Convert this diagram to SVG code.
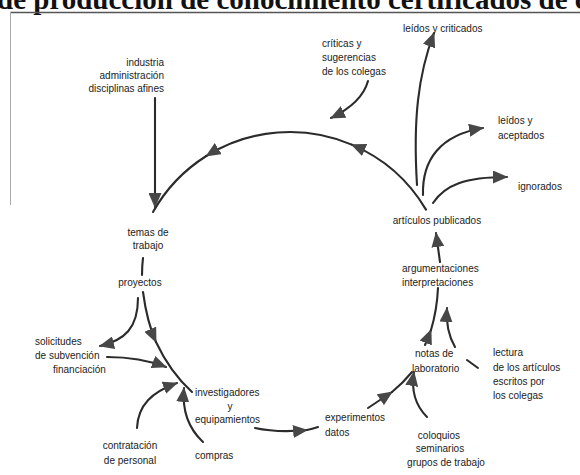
<svg xmlns="http://www.w3.org/2000/svg" width="580" height="475" viewBox="0 0 580 475">
<defs>
<marker id="ah" markerUnits="userSpaceOnUse" markerWidth="16" markerHeight="13" refX="14" refY="6.5" orient="auto">
<path d="M0,0 L15,6.5 L0,13 Z" fill="#474747"/>
</marker>
<style>
.t{font-family:"Liberation Sans",Arial,sans-serif;font-size:10px;fill:#222}
.m{text-anchor:middle}
.e{text-anchor:end}
.c{fill:none;stroke:#2b2b2b;stroke-width:2.1;stroke-linecap:round}
.a{marker-end:url(#ah)}
.title{font-family:"Liberation Serif","Times New Roman",serif;font-weight:bold;font-size:29px;fill:#111}
</style>
</defs>
<rect width="580" height="475" fill="#fff"/>
<g id="title"><text class="title" x="-3" y="9">de producción de conocimiento certificados de c</text></g>
<g id="frame">
<line x1="10.5" y1="12.5" x2="580" y2="12.5" stroke="#555" stroke-width="1.4"/>
<line x1="10.5" y1="12.5" x2="10.5" y2="205" stroke="#aaa" stroke-width="1"/>
</g>
<g id="connectors">
<path class="c a" d="M426,209.6 A158,158 0 0 0 351.7,144.6"/>
<path class="c a" d="M351.7,144.6 A158,158 0 0 0 206.3,156"/>
<path class="c" d="M206.3,156 A158,158 0 0 0 153,212"/>
<path class="c a" d="M155,98 L155,207"/>
<path class="c" d="M143,258 Q142,266 142,275"/>
<path class="c a" d="M143,292 Q147,322 156,342"/>
<path class="c" d="M156,342 Q170,372 192,392"/>
<path class="c a" d="M138,298 C138,328 125,340 100,346"/>
<path class="c a" d="M107,357 Q140,357 166,367"/>
<path class="c a" d="M137,428 C138,405 152,392 177,383"/>
<path class="c a" d="M203,442 C188,428 182,410 184,388"/>
<path class="c a" d="M255,428 Q278,433 307,430"/>
<path class="c" d="M307,430 Q312,429 318,427"/>
<path class="c a" d="M368,408 Q380,400 392,392"/>
<path class="c" d="M392,392 Q403,383 412,372"/>
<path class="c a" d="M427,417 C415,405 411,390 414,372"/>
<path class="c a" d="M425,345 L431,330"/>
<path class="c" d="M431,330 Q437,310 438,288"/>
<path class="c a" d="M455,347 C448,335 446,322 447,308"/>
<path class="c" d="M467,360 L478,368"/>
<path class="c a" d="M440,262 L436,233"/>
<path class="c a" d="M417,185 C413,120 418,75 434,33"/>
<path class="c a" d="M423,195 C422,160 440,135 483,128"/>
<path class="c a" d="M433,203 C445,185 465,177 507,177"/>
<path class="c a" d="M368,81 Q362,103 331,118"/>
</g>
<g id="n-industria"><text class="t e" x="164" y="66">industria</text><text class="t e" x="164" y="79">administración</text><text class="t e" x="164" y="92">disciplinas afines</text></g>
<g id="n-criticas"><text class="t" x="322" y="47">críticas y</text><text class="t" x="322" y="61">sugerencias</text><text class="t" x="322" y="75">de los colegas</text></g>
<g id="n-leidos-criticados"><text class="t" x="403" y="32">leídos y criticados</text></g>
<g id="n-leidos-aceptados"><text class="t" x="498" y="124">leídos y</text><text class="t" x="498" y="139">aceptados</text></g>
<g id="n-ignorados"><text class="t" x="518" y="190">ignorados</text></g>
<g id="n-articulos"><text class="t m" x="437" y="224">artículos publicados</text></g>
<g id="n-argumentaciones"><text class="t" x="402" y="272">argumentaciones</text><text class="t" x="402" y="286">interpretaciones</text></g>
<g id="n-notas"><text class="t" x="415" y="357">notas de</text><text class="t" x="412" y="372">laboratorio</text></g>
<g id="n-lectura"><text class="t" x="493" y="356">lectura</text><text class="t" x="493" y="371">de los artículos</text><text class="t" x="493" y="385">escritos por</text><text class="t" x="493" y="399">los colegas</text></g>
<g id="n-experimentos"><text class="t" x="325" y="421">experimentos</text><text class="t" x="325" y="436">datos</text></g>
<g id="n-coloquios"><text class="t m" x="439" y="439">coloquios</text><text class="t m" x="440" y="452">seminarios</text><text class="t m" x="446" y="466">grupos de trabajo</text></g>
<g id="n-temas"><text class="t m" x="148" y="236">temas de</text><text class="t m" x="148" y="249">trabajo</text></g>
<g id="n-proyectos"><text class="t m" x="140" y="286">proyectos</text></g>
<g id="n-solicitudes"><text class="t" x="35" y="345">solicitudes</text><text class="t" x="35" y="359">de subvención</text><text class="t" x="53" y="373">financiación</text></g>
<g id="n-investigadores"><text class="t" x="195" y="396">investigadores</text><text class="t m" x="230" y="410">y</text><text class="t" x="195" y="423">equipamientos</text></g>
<g id="n-contratacion"><text class="t m" x="130" y="449">contratación</text><text class="t m" x="130" y="464">de personal</text></g>
<g id="n-compras"><text class="t" x="195" y="459">compras</text></g>
</svg>
